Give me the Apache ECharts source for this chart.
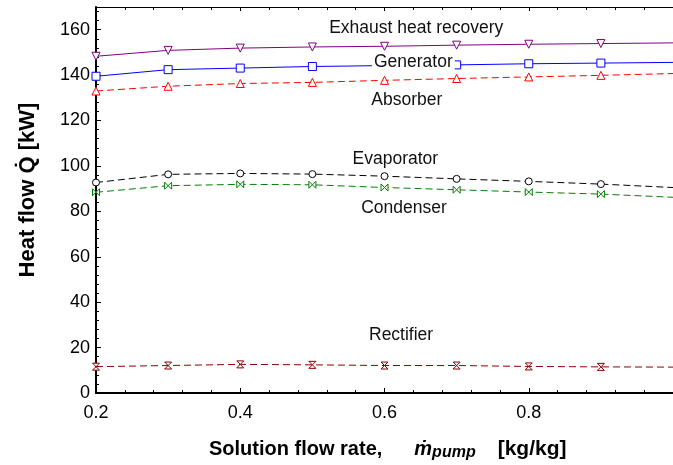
<!DOCTYPE html>
<html><head><meta charset="utf-8">
<script src="https://cdn.jsdelivr.net/npm/echarts@6/dist/echarts.min.js"></script>
<style>html,body{margin:0;padding:0;background:#fff}#c{width:673px;height:465px}</style>
</head><body><div id="c"></div>
<script>
// ---- data ----
const xValues    = [0.2, 0.3, 0.4, 0.5, 0.6, 0.7, 0.8, 0.9, 1.0];
const exhaust    = [148.3, 150.9, 151.9, 152.4, 152.7, 153.2, 153.6, 153.9, 154.2];
const generator  = [139.5, 142.4, 143.1, 143.8, 144.2, 144.5, 145.0, 145.3, 145.6];
const absorber   = [133.0, 135.1, 136.3, 136.8, 137.7, 138.5, 139.2, 139.9, 140.7];
const evaporator = [92.7, 96.3, 96.7, 96.4, 95.5, 94.3, 93.2, 92.0, 90.5];
const condenser  = [88.4, 91.3, 91.9, 91.7, 90.5, 89.5, 88.5, 87.6, 86.2];
const rectifier  = [11.6, 12.1, 12.6, 12.4, 12.1, 12.1, 11.7, 11.5, 11.4];
const xTickLabels = ['0.2', '0.4', '0.6', '0.8'];
const yTickLabels = ['0', '20', '40', '60', '80', '100', '120', '140', '160'];
// annotation text and anchor (data coords)
const annotations = [
  ['Exhaust heat recovery', 0.644, 160.6, false],
  ['Generator', 0.640, 145.6, true],
  ['Absorber', 0.631, 128.9, false],
  ['Evaporator', 0.615, 103.0, false],
  ['Condenser', 0.627, 81.5, false],
  ['Rectifier', 0.623, 25.4, false]
];

const FONT = '"Liberation Sans", Arial, sans-serif';
const bowtie = 'path://M0,0 L5,5 L0,10 Z M10,0 L5,5 L10,10 Z';
const hourglass = 'path://M0,0 L10,0 L5,5 Z M0,10 L10,10 L5,5 Z';

function mk(name, vals, color, symbol, size, dashed, rotate) {
  return {
    name: name, type: 'line',
    data: vals.map((v, i) => i === xValues.length - 1
      ? { value: [xValues[i], v], symbol: 'none' }
      : [xValues[i], v]),
    symbol: symbol, symbolSize: size, symbolRotate: rotate || 0,
    showAllSymbol: true,
    lineStyle: { color: color, width: 1, type: dashed ? [7, 4] : 'solid' },
    itemStyle: { color: '#fff', borderColor: color, borderWidth: 1 },
    emphasis: { disabled: true },
    animation: false, z: 3
  };
}

const chart = echarts.init(document.getElementById('c'));
const axisCommon = {
  type: 'value', min: 0.2, max: 1.0, interval: 0.2,
  splitLine: { show: false }
};
chart.setOption({
  animation: false,
  backgroundColor: '#fff',
  grid: { left: 96, right: -5, top: 7, bottom: 72, containLabel: false },
  xAxis: [
    Object.assign({}, axisCommon, {
      position: 'bottom',
      axisLine: { lineStyle: { color: '#000', width: 2 } },
      axisTick: { inside: true, length: 5, lineStyle: { color: '#000' } },
      minorTick: { show: true, splitNumber: 5, length: 3, lineStyle: { color: '#000' } },
      axisLabel: { showMaxLabel: false, margin: 11, color: '#000', fontSize: 18, fontFamily: FONT,
        formatter: v => { const s = (Math.round(v * 10) / 10).toFixed(1); return xTickLabels.indexOf(s) >= 0 ? s : ''; } }
    }),
    Object.assign({}, axisCommon, {
      position: 'top',
      axisLine: { lineStyle: { color: '#000', width: 1 } },
      axisTick: { inside: true, length: 4, lineStyle: { color: '#000' } },
      minorTick: { show: true, splitNumber: 5, length: 3, lineStyle: { color: '#000' } },
      axisLabel: { show: false }
    })
  ],
  yAxis: {
    type: 'value', min: 0, max: 170, interval: 20,
    splitLine: { show: false },
    axisLine: { show: true, lineStyle: { color: '#000', width: 2 } },
    axisTick: { inside: true, length: 5, lineStyle: { color: '#000' } },
    minorTick: { show: true, splitNumber: 5, length: 3, lineStyle: { color: '#000' } },
    axisLabel: { showMaxLabel: false, margin: 6, color: '#000', fontSize: 18, fontFamily: FONT,
      formatter: v => yTickLabels.indexOf(String(v)) >= 0 ? String(v) : '' }
  },
  series: [
    mk('Exhaust heat recovery', exhaust, '#800080', 'triangle', 8, false, 180),
    mk('Generator', generator, '#0000ff', 'rect', 8, false),
    mk('Absorber', absorber, '#ff0000', 'triangle', 8, true),
    mk('Evaporator', evaporator, '#000000', 'circle', 7, true),
    mk('Condenser', condenser, '#008000', bowtie, 7, true),
    mk('Rectifier', rectifier, '#8b0000', hourglass, 7, true)
  ]
});

const graphics = annotations.map(a => {
  const p = chart.convertToPixel({ seriesIndex: 0 }, [a[1], a[2]]);
  return {
    type: 'text', x: p[0], y: p[1], z: 100,
    style: {
      text: a[0], font: '17.5px ' + FONT, fill: '#111',
      align: 'center', verticalAlign: 'middle',
      backgroundColor: a[3] ? '#fff' : 'transparent', padding: a[3] ? [0, 2] : 0
    }
  };
});
graphics.push({
  type: 'text', x: 28, y: 190, rotation: Math.PI / 2, z: 100,
  style: { text: 'Heat flow Q\u0307 [kW]', font: 'bold 22px ' + FONT, fill: '#000',
    align: 'center', verticalAlign: 'middle' }
});
graphics.push({
  type: 'text', x: 209, y: 449, z: 100,
  style: {
    text: '{a|Solution flow rate,}{m|\u1e41}{s|pump}{b|[kg/kg]}',
    align: 'left', verticalAlign: 'middle', fill: '#000',
    rich: {
      a: { font: 'bold 20px ' + FONT, fill: '#000' },
      m: { font: 'italic bold 20px ' + FONT, fill: '#000', padding: [0, 0, 0, 32] },
      s: { font: 'italic bold 16px ' + FONT, fill: '#000', padding: [8, 0, 0, 0] },
      b: { font: 'bold 21px ' + FONT, fill: '#000', padding: [0, 0, 0, 22] }
    }
  }
});
chart.setOption({ graphic: graphics });
</script>
</body></html>
